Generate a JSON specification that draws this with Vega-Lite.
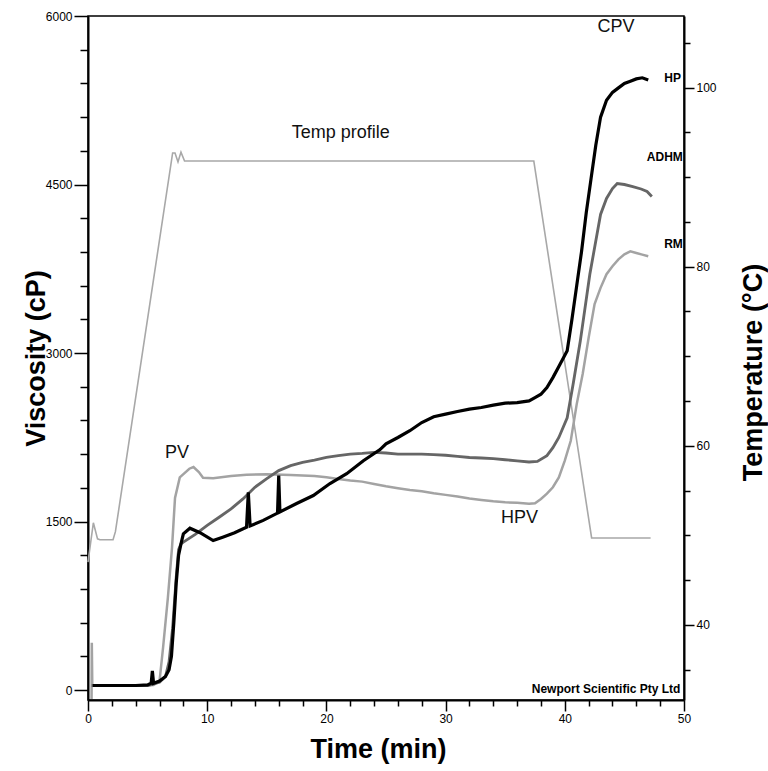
{
  "$schema": "https://vega.github.io/schema/vega-lite/v6.json",
  "width": 596,
  "height": 684,
  "autosize": {"type": "none"},
  "padding": {"left": 88, "top": 16, "right": 84, "bottom": 71},
  "background": "white",
  "config": {
    "view": {"stroke": "black", "strokeWidth": 1.5},
    "axis": {
      "domainColor": "black", "domainWidth": 2, "tickColor": "black", "tickWidth": 1.5, "ticks": true, "zindex": 1,
      "labelFont": "Liberation Sans", "labelFontSize": 12, "labelColor": "black",
      "labelOverlap": false, "labelFlush": false, "labelBound": false,
      "titleFont": "Liberation Sans", "titleFontSize": 27, "titleFontWeight": "bold", "titleColor": "black",
      "grid": false
    }
  },
  "datasets": {
    "visc": [
      {"s":"RM","t":0.3,"v":-80},{"s":"RM","t":0.32,"v":420},{"s":"RM","t":0.36,"v":40},{"s":"RM","t":1,"v":40},{"s":"RM","t":2,"v":40},{"s":"RM","t":3,"v":40},{"s":"RM","t":4,"v":40},{"s":"RM","t":5,"v":40},{"s":"RM","t":5.5,"v":45},{"s":"RM","t":6,"v":80},{"s":"RM","t":6.3,"v":380},{"s":"RM","t":6.7,"v":820},{"s":"RM","t":7.05,"v":1270},{"s":"RM","t":7.3,"v":1710},{"s":"RM","t":7.7,"v":1893},{"s":"RM","t":8.5,"v":1970},{"s":"RM","t":8.85,"v":1985},{"s":"RM","t":9.3,"v":1940},{"s":"RM","t":9.65,"v":1890},{"s":"RM","t":10.5,"v":1885},{"s":"RM","t":12,"v":1905},{"s":"RM","t":13.3,"v":1917},{"s":"RM","t":15,"v":1920},{"s":"RM","t":17,"v":1915},{"s":"RM","t":18,"v":1910},{"s":"RM","t":19,"v":1905},{"s":"RM","t":20,"v":1893},{"s":"RM","t":21,"v":1879},{"s":"RM","t":22,"v":1864},{"s":"RM","t":23,"v":1855},{"s":"RM","t":24,"v":1834},{"s":"RM","t":25,"v":1813},{"s":"RM","t":26,"v":1796},{"s":"RM","t":27,"v":1781},{"s":"RM","t":28,"v":1769},{"s":"RM","t":29,"v":1751},{"s":"RM","t":30,"v":1737},{"s":"RM","t":31,"v":1722},{"s":"RM","t":32,"v":1704},{"s":"RM","t":33,"v":1692},{"s":"RM","t":34,"v":1680},{"s":"RM","t":35,"v":1671},{"s":"RM","t":36,"v":1666},{"s":"RM","t":37,"v":1657},{"s":"RM","t":37.5,"v":1663},{"s":"RM","t":38,"v":1701},{"s":"RM","t":38.5,"v":1748},{"s":"RM","t":39,"v":1805},{"s":"RM","t":39.5,"v":1893},{"s":"RM","t":40,"v":2041},{"s":"RM","t":40.5,"v":2219},{"s":"RM","t":41,"v":2545},{"s":"RM","t":41.5,"v":2813},{"s":"RM","t":42,"v":3136},{"s":"RM","t":42.5,"v":3435},{"s":"RM","t":43,"v":3580},{"s":"RM","t":43.5,"v":3701},{"s":"RM","t":44,"v":3772},{"s":"RM","t":44.5,"v":3834},{"s":"RM","t":45,"v":3878},{"s":"RM","t":45.5,"v":3905},{"s":"RM","t":46,"v":3890},{"s":"RM","t":46.5,"v":3876},{"s":"RM","t":47,"v":3861},
      {"s":"ADHM","t":0.3,"v":40},{"s":"ADHM","t":1,"v":40},{"s":"ADHM","t":2,"v":40},{"s":"ADHM","t":3,"v":40},{"s":"ADHM","t":4,"v":40},{"s":"ADHM","t":5,"v":40},{"s":"ADHM","t":6,"v":70},{"s":"ADHM","t":6.5,"v":120},{"s":"ADHM","t":6.8,"v":250},{"s":"ADHM","t":7.1,"v":550},{"s":"ADHM","t":7.4,"v":1000},{"s":"ADHM","t":7.6,"v":1250},{"s":"ADHM","t":7.8,"v":1300},{"s":"ADHM","t":8,"v":1316},{"s":"ADHM","t":9,"v":1385},{"s":"ADHM","t":10,"v":1465},{"s":"ADHM","t":11,"v":1538},{"s":"ADHM","t":12,"v":1612},{"s":"ADHM","t":13,"v":1701},{"s":"ADHM","t":14,"v":1805},{"s":"ADHM","t":15,"v":1882},{"s":"ADHM","t":16,"v":1953},{"s":"ADHM","t":17,"v":1997},{"s":"ADHM","t":18,"v":2026},{"s":"ADHM","t":19,"v":2047},{"s":"ADHM","t":20,"v":2071},{"s":"ADHM","t":21,"v":2086},{"s":"ADHM","t":22,"v":2100},{"s":"ADHM","t":23,"v":2106},{"s":"ADHM","t":24,"v":2115},{"s":"ADHM","t":25,"v":2110},{"s":"ADHM","t":26,"v":2100},{"s":"ADHM","t":27,"v":2100},{"s":"ADHM","t":28,"v":2100},{"s":"ADHM","t":29,"v":2095},{"s":"ADHM","t":30,"v":2090},{"s":"ADHM","t":31,"v":2080},{"s":"ADHM","t":32,"v":2070},{"s":"ADHM","t":33,"v":2065},{"s":"ADHM","t":34,"v":2060},{"s":"ADHM","t":35,"v":2050},{"s":"ADHM","t":36,"v":2040},{"s":"ADHM","t":37,"v":2030},{"s":"ADHM","t":37.7,"v":2035},{"s":"ADHM","t":38.5,"v":2086},{"s":"ADHM","t":39,"v":2157},{"s":"ADHM","t":39.5,"v":2248},{"s":"ADHM","t":40.2,"v":2423},{"s":"ADHM","t":40.7,"v":2725},{"s":"ADHM","t":41.3,"v":3106},{"s":"ADHM","t":42.1,"v":3701},{"s":"ADHM","t":43,"v":4234},{"s":"ADHM","t":43.5,"v":4376},{"s":"ADHM","t":44,"v":4464},{"s":"ADHM","t":44.4,"v":4509},{"s":"ADHM","t":45,"v":4500},{"s":"ADHM","t":45.7,"v":4482},{"s":"ADHM","t":46.4,"v":4460},{"s":"ADHM","t":46.9,"v":4438},{"s":"ADHM","t":47.3,"v":4393},
      {"s":"HP","t":0.4,"v":40},{"s":"HP","t":1,"v":40},{"s":"HP","t":2,"v":40},{"s":"HP","t":3,"v":40},{"s":"HP","t":4,"v":40},{"s":"HP","t":5,"v":45},{"s":"HP","t":5.3,"v":60},{"s":"HP","t":5.4,"v":170},{"s":"HP","t":5.5,"v":60},{"s":"HP","t":6,"v":80},{"s":"HP","t":6.5,"v":120},{"s":"HP","t":6.8,"v":180},{"s":"HP","t":7.0,"v":300},{"s":"HP","t":7.2,"v":600},{"s":"HP","t":7.4,"v":950},{"s":"HP","t":7.6,"v":1200},{"s":"HP","t":7.8,"v":1300},{"s":"HP","t":8.0,"v":1390},{"s":"HP","t":8.55,"v":1440},{"s":"HP","t":9.4,"v":1400},{"s":"HP","t":10.5,"v":1330},{"s":"HP","t":11.3,"v":1360},{"s":"HP","t":12.3,"v":1400},{"s":"HP","t":13.3,"v":1450},{"s":"HP","t":13.45,"v":1760},{"s":"HP","t":13.6,"v":1460},{"s":"HP","t":14.7,"v":1510},{"s":"HP","t":15.9,"v":1575},{"s":"HP","t":16.0,"v":1910},{"s":"HP","t":16.1,"v":1585},{"s":"HP","t":17.5,"v":1660},{"s":"HP","t":18.9,"v":1731},{"s":"HP","t":20.3,"v":1838},{"s":"HP","t":21.7,"v":1926},{"s":"HP","t":23.1,"v":2041},{"s":"HP","t":24.5,"v":2140},{"s":"HP","t":25,"v":2192},{"s":"HP","t":26,"v":2248},{"s":"HP","t":27,"v":2308},{"s":"HP","t":28,"v":2381},{"s":"HP","t":29,"v":2432},{"s":"HP","t":30,"v":2456},{"s":"HP","t":31,"v":2479},{"s":"HP","t":32,"v":2500},{"s":"HP","t":33,"v":2515},{"s":"HP","t":34,"v":2536},{"s":"HP","t":35,"v":2553},{"s":"HP","t":36,"v":2559},{"s":"HP","t":37,"v":2574},{"s":"HP","t":37.5,"v":2603},{"s":"HP","t":38,"v":2633},{"s":"HP","t":38.5,"v":2692},{"s":"HP","t":39,"v":2781},{"s":"HP","t":39.5,"v":2880},{"s":"HP","t":40.2,"v":3020},{"s":"HP","t":40.6,"v":3300},{"s":"HP","t":41,"v":3600},{"s":"HP","t":41.4,"v":3900},{"s":"HP","t":41.8,"v":4250},{"s":"HP","t":42.2,"v":4550},{"s":"HP","t":42.6,"v":4850},{"s":"HP","t":43,"v":5100},{"s":"HP","t":43.5,"v":5250},{"s":"HP","t":44,"v":5320},{"s":"HP","t":44.5,"v":5360},{"s":"HP","t":45,"v":5400},{"s":"HP","t":45.5,"v":5420},{"s":"HP","t":46,"v":5440},{"s":"HP","t":46.5,"v":5450},{"s":"HP","t":47,"v":5430}
    ],
    "temp": [
      {"t":0,"T":47},{"t":0.45,"T":51.4},{"t":0.8,"T":49.6},{"t":1.0,"T":49.5},{"t":2.1,"T":49.5},{"t":2.3,"T":50.4},{"t":7.1,"T":92.7},{"t":7.3,"T":92.7},{"t":7.55,"T":91.7},{"t":7.8,"T":92.8},{"t":8.1,"T":91.8},{"t":37.4,"T":91.8},{"t":42.25,"T":49.7},{"t":47.2,"T":49.7}
    ],
    "bigNotes": [
      {"label":"Temp profile","t":21.2,"v":4961},
      {"label":"CPV","t":44.3,"v":5900},
      {"label":"PV","t":7.47,"v":2112},
      {"label":"HPV","t":36.2,"v":1527}
    ],
    "smallNotes": [
      {"label":"HP","t":49.75,"v":5450},
      {"label":"ADHM","t":49.9,"v":4748},
      {"label":"RM","t":49.9,"v":3967},
      {"label":"Newport Scientific Pty Ltd","t":49.7,"v":10}
    ]
  },
  "layer": [
    {
      "data": {"name": "temp"},
      "mark": {"type": "line", "color": "#a8a8a8", "strokeWidth": 1.6},
      "encoding": {
        "x": {"field": "t", "type": "quantitative", "scale": {"domain": [0, 50], "nice": false, "zero": false}, "axis": null},
        "y": {"field": "T", "type": "quantitative", "scale": {"domain": [31.6, 108], "nice": false, "zero": false},
          "axis": {
            "orient": "right",
            "values": [35,40,45,50,55,60,65,70,75,80,85,90,95,100,105],
            "labelExpr": "datum.value % 20 === 0 ? datum.label : ''",
            "tickSize": {"condition": {"test": "datum.value % 20 === 0", "value": 10}, "value": 6},
            "labelPadding": 2,
            "title": "Temperature (°C)", "titleAngle": -90, "titleX": 77, "titleY": 356, "titleBaseline": "alphabetic", "titleAlign": "center"
          }}
      }
    },
    {
      "data": {"name": "bigNotes"},
      "mark": {"type": "text", "font": "Liberation Sans", "fontSize": 18, "color": "#111111", "align": "center", "baseline": "middle"},
      "encoding": {
        "x": {"field": "t", "type": "quantitative", "scale": {"domain": [0, 50], "nice": false, "zero": false},
          "axis": {
            "orient": "bottom",
            "values": [0,2,4,6,8,10,12,14,16,18,20,22,24,26,28,30,32,34,36,38,40,42,44,46,48,50],
            "labelExpr": "datum.value % 10 === 0 ? datum.label : ''",
            "tickSize": {"condition": {"test": "datum.value % 10 === 0", "value": 11}, "value": 6},
            "labelPadding": 2,
            "title": "Time (min)", "titleX": 290, "titleY": 57, "titleBaseline": "alphabetic", "titleAlign": "center"
          }},
        "y": {"field": "v", "type": "quantitative", "scale": {"domain": [-89, 6000], "nice": false, "zero": false},
          "axis": {
            "orient": "left",
            "values": [0,300,600,900,1200,1500,1800,2100,2400,2700,3000,3300,3600,3900,4200,4500,4800,5100,5400,5700,6000],
            "labelExpr": "datum.value % 1500 === 0 ? format(datum.value, 'd') : ''",
            "tickSize": {"condition": {"test": "datum.value % 1500 === 0", "value": 14}, "value": 8},
            "labelPadding": 2,
            "title": "Viscosity (cP)", "titleAngle": -90, "titleX": -44, "titleY": 342, "titleBaseline": "alphabetic", "titleAlign": "center"
          }},
        "text": {"field": "label"}
      }
    },
    {
      "data": {"name": "smallNotes"},
      "mark": {"type": "text", "font": "Liberation Sans", "fontSize": 12, "fontWeight": "bold", "color": "#000000", "align": "right", "baseline": "middle"},
      "encoding": {
        "x": {"field": "t", "type": "quantitative", "scale": {"domain": [0, 50], "nice": false, "zero": false}, "axis": null},
        "y": {"field": "v", "type": "quantitative", "scale": {"domain": [-89, 6000], "nice": false, "zero": false}, "axis": null},
        "text": {"field": "label"}
      }
    },
    {
      "data": {"name": "visc"},
      "mark": {"type": "line", "interpolate": "linear"},
      "encoding": {
        "x": {"field": "t", "type": "quantitative", "scale": {"domain": [0, 50], "nice": false, "zero": false}, "axis": null},
        "y": {"field": "v", "type": "quantitative", "scale": {"domain": [-89, 6000], "nice": false, "zero": false}, "axis": null},
        "color": {"field": "s", "type": "nominal", "scale": {"domain": ["RM","ADHM","HP"], "range": ["#a3a3a3","#666666","#000000"]}, "legend": null},
        "strokeWidth": {"field": "s", "type": "nominal", "scale": {"domain": ["RM","ADHM","HP"], "range": [2.5, 3.2, 4]}, "legend": null}
      }
    }
  ],
  "resolve": {"scale": {"x": "independent", "y": "independent"}}
}
